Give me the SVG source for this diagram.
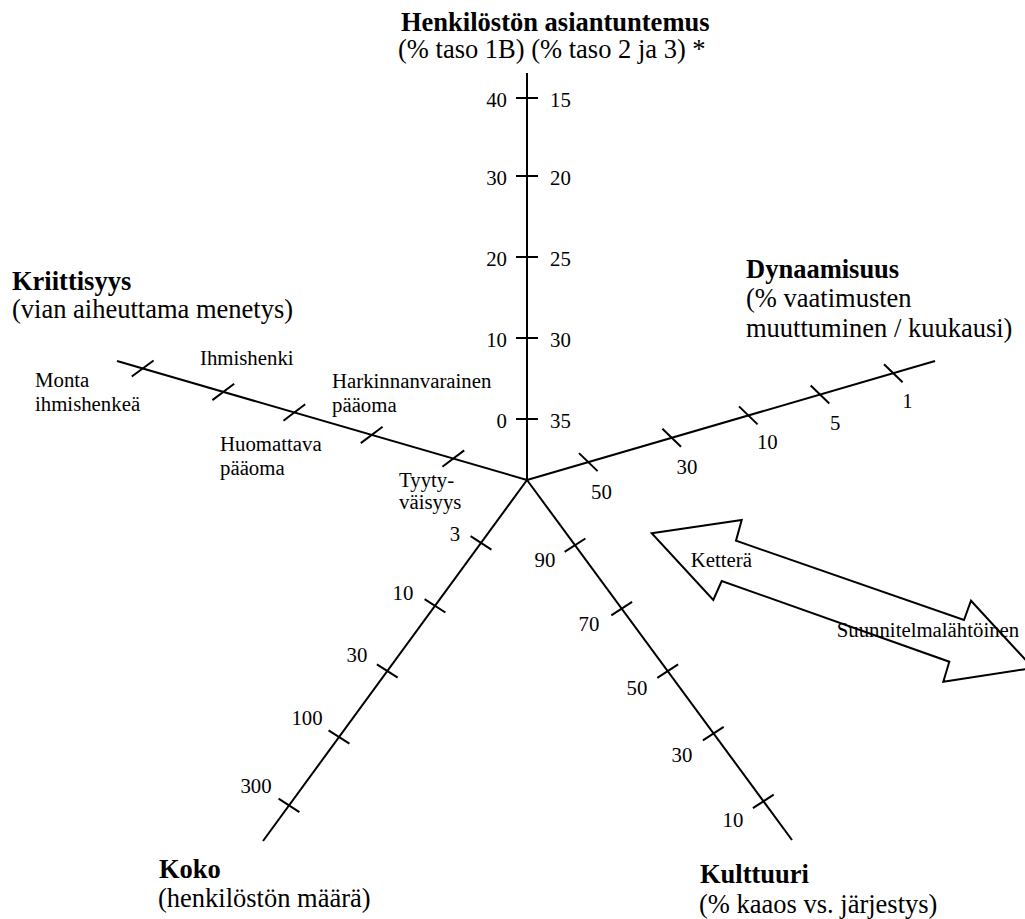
<svg xmlns="http://www.w3.org/2000/svg" width="1025" height="919" viewBox="0 0 1025 919">
  <style>
    text { font-family: "Liberation Serif", "Times New Roman", serif; fill: #000; }
    .h { font-size: 26.5px; font-weight: bold; }
    .s { font-size: 26.5px; }
    .n { font-size: 20.8px; }
    .m { text-anchor: middle; }
    .e { text-anchor: end; }
    .ax { stroke: #000; stroke-width: 2; fill: none; stroke-linecap: butt; }
  </style>
  <rect width="1025" height="919" fill="#fff"/>

  <!-- axis lines, all radiating from the common origin -->
  <g id="connectors" class="ax">
    <line x1="527" y1="480" x2="527" y2="73"/>
    <line x1="527" y1="480" x2="117" y2="361"/>
    <line x1="527" y1="480" x2="935" y2="361"/>
    <line x1="527" y1="480" x2="263" y2="841"/>
    <line x1="527" y1="480" x2="792" y2="840"/>
  </g>

  <!-- Henkilöstön asiantuntemus (vertical axis) -->
  <g id="asiantuntemus">
    <g class="ax">
      <line x1="516" y1="98" x2="538" y2="98"/>
      <line x1="516" y1="176" x2="538" y2="176"/>
      <line x1="516" y1="257" x2="538" y2="257"/>
      <line x1="516" y1="338" x2="538" y2="338"/>
      <line x1="516" y1="419" x2="538" y2="419"/>
    </g>
    <g class="n e">
      <text x="507" y="107">40</text>
      <text x="507" y="185">30</text>
      <text x="507" y="266">20</text>
      <text x="507" y="347">10</text>
      <text x="507" y="428">0</text>
    </g>
    <g class="n">
      <text x="550" y="107">15</text>
      <text x="550" y="185">20</text>
      <text x="550" y="266">25</text>
      <text x="550" y="347">30</text>
      <text x="550" y="428">35</text>
    </g>
    <text class="h" x="401" y="31">Henkilöstön asiantuntemus</text>
    <text class="s" x="398" y="58">(% taso 1B) (% taso 2 ja 3) *</text>
  </g>

  <!-- Kriittisyys (upper-left axis) -->
  <g id="kriittisyys">
    <g class="ax">
      <line x1="131.8" y1="376.5" x2="153.6" y2="360.5"/>
      <line x1="212.4" y1="400.1" x2="234.2" y2="383.7"/>
      <line x1="283.4" y1="420.7" x2="305.2" y2="404.3"/>
      <line x1="360.8" y1="443.1" x2="382.6" y2="426.7"/>
      <line x1="442.4" y1="466.8" x2="464.2" y2="450.4"/>
    </g>
    <g class="n">
      <text x="200" y="365">Ihmishenki</text>
      <text x="35" y="387">Monta</text>
      <text x="35" y="411">ihmishenkeä</text>
      <text x="332" y="388">Harkinnanvarainen</text>
      <text x="332" y="412">pääoma</text>
      <text x="220" y="451">Huomattava</text>
      <text x="220" y="475">pääoma</text>
      <text x="399" y="487">Tyyty-</text>
      <text x="399" y="509">väisyys</text>
    </g>
    <text class="h" x="12" y="290">Kriittisyys</text>
    <text class="s" x="12" y="318">(vian aiheuttama menetys)</text>
  </g>

  <!-- Dynaamisuus (upper-right axis) -->
  <g id="dynaamisuus">
    <g class="ax">
      <line x1="579" y1="453.1" x2="597.6" y2="471.1"/>
      <line x1="662.4" y1="428.8" x2="681" y2="446.8"/>
      <line x1="739" y1="406.4" x2="757.6" y2="424.4"/>
      <line x1="810.7" y1="385.5" x2="829.3" y2="403.5"/>
      <line x1="884" y1="364.2" x2="902.6" y2="382.2"/>
    </g>
    <g class="n m">
      <text x="601.5" y="498.5">50</text>
      <text x="687" y="473.7">30</text>
      <text x="767.3" y="448.7">10</text>
      <text x="835.3" y="429.5">5</text>
      <text x="907.5" y="408">1</text>
    </g>
    <text class="h" x="746" y="278">Dynaamisuus</text>
    <text class="s" x="746" y="307">(% vaatimusten</text>
    <text class="s" x="746" y="337">muuttuminen / kuukausi)</text>
  </g>

  <!-- Koko (lower-left axis) -->
  <g id="koko">
    <g class="ax">
      <line x1="470.6" y1="536.2" x2="491.4" y2="549.6"/>
      <line x1="424.6" y1="599.1" x2="445.4" y2="612.5"/>
      <line x1="376.9" y1="664.3" x2="397.7" y2="677.7"/>
      <line x1="328.6" y1="730.3" x2="349.4" y2="743.7"/>
      <line x1="278.6" y1="798.7" x2="299.4" y2="812.1"/>
    </g>
    <g class="n m">
      <text x="455" y="541">3</text>
      <text x="403" y="600">10</text>
      <text x="357" y="662">30</text>
      <text x="307" y="725">100</text>
      <text x="256" y="793">300</text>
    </g>
    <text class="h" x="159" y="878">Koko</text>
    <text class="s" x="158" y="907">(henkilöstön määrä)</text>
  </g>

  <!-- Kulttuuri (lower-right axis) -->
  <g id="kulttuuri">
    <g class="ax">
      <line x1="564.6" y1="551.9" x2="585.4" y2="538.5"/>
      <line x1="611.3" y1="615.3" x2="632.1" y2="601.9"/>
      <line x1="657.3" y1="677.8" x2="678.1" y2="664.4"/>
      <line x1="702.9" y1="740.3" x2="723.7" y2="726.9"/>
      <line x1="752.9" y1="808.1" x2="773.7" y2="794.7"/>
    </g>
    <g class="n m">
      <text x="545" y="567">90</text>
      <text x="589" y="631">70</text>
      <text x="637" y="695">50</text>
      <text x="682" y="762">30</text>
      <text x="733" y="827">10</text>
    </g>
    <text class="h" x="700" y="883">Kulttuuri</text>
    <text class="s" x="699" y="913">(% kaaos vs. järjestys)</text>
  </g>

  <!-- double-headed block arrow between the two approaches -->
  <g id="suunta">
    <path class="ax" fill="#fff" stroke-linejoin="miter"
          d="M651.7,533.3 L741.7,520 L736,540.7 L964,620 L971,600.7 L1033,668 L943.3,681.7 L949.3,661.7 L721.7,581 L713.3,600 Z"/>
    <text class="n" x="690.7" y="566.7">Ketterä</text>
    <text class="n" x="836.7" y="637.3">Suunnitelmalähtöinen</text>
  </g>
</svg>
